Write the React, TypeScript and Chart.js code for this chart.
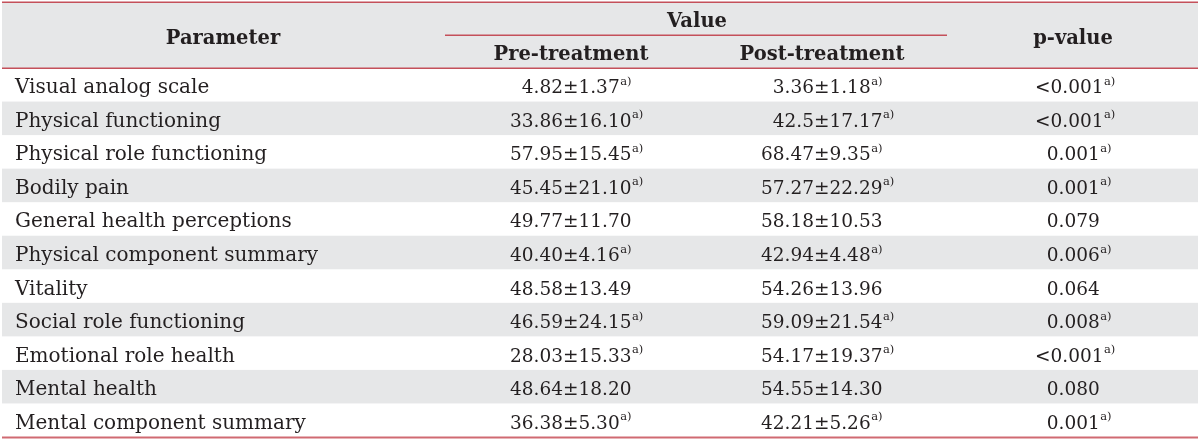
import React, { useEffect, useRef } from "react";
import { Chart, registerables } from "chart.js";

Chart.register(...registerables);

// ---- data ----
const parameters = [
  "Visual analog scale",
  "Physical functioning",
  "Physical role functioning",
  "Bodily pain",
  "General health perceptions",
  "Physical component summary",
  "Vitality",
  "Social role functioning",
  "Emotional role health",
  "Mental health",
  "Mental component summary",
];
const preMean = ["4.82", "33.86", "57.95", "45.45", "49.77", "40.40", "48.58", "46.59", "28.03", "48.64", "36.38"];
const preSD = ["1.37", "16.10", "15.45", "21.10", "11.70", "4.16", "13.49", "24.15", "15.33", "18.20", "5.30"];
const preSig = [true, true, true, true, false, true, false, true, true, false, true];
const postMean = ["3.36", "42.5", "68.47", "57.27", "58.18", "42.94", "54.26", "59.09", "54.17", "54.55", "42.21"];
const postSD = ["1.18", "17.17", "9.35", "22.29", "10.53", "4.48", "13.96", "21.54", "19.37", "14.30", "5.26"];
const postSig = [true, true, true, true, false, true, false, true, true, false, true];
const pValues = ["<0.001", "<0.001", "0.001", "0.001", "0.079", "0.006", "0.064", "0.008", "<0.001", "0.080", "0.001"];
const pSig = [true, true, true, true, false, true, false, true, true, false, true];
const headerTop = "Value";
const headers = ["Parameter", "Pre-treatment", "Post-treatment", "p-value"];
const footMark = "a)";

// ---- layout (x positions in x-scale units) ----
const TABLE_LEFT = 2;
const TABLE_RIGHT = 1198;
const PARAM_LEFT = 15;
const PRE_LEFT = 510;
const POST_LEFT = 761;
const P_LEFT = 1035;
const HEAD_CENTERS = [223, 571, 822, 1073];
const VALUE_CENTER = 697;
const VALUE_LINE = [445, 947];

const FONT_FAMILY = '"DejaVu Serif", serif';
const FS_HEAD = 19.5;
const FS_NAME = 20;
const FS_NUM = 18.5;
const FS_SUP = 11.5;
const TEXT = "#231f20";
const GRAY = "#e6e7e8";
const RED = "#c4505a";
const RED_BOTTOM = "#d06a72";

const tablePlugin = {
  id: "tableDraw",
  beforeDatasetsDraw(chart: any) {
    const ctx = chart.ctx as CanvasRenderingContext2D;
    const area = chart.chartArea;
    const xs = chart.scales.x;
    const ys = chart.scales.y;
    const n = parameters.length;
    const band = (area.bottom - area.top) / n;
    const L = xs.getPixelForValue(TABLE_LEFT);
    const R = xs.getPixelForValue(TABLE_RIGHT);

    ctx.save();
    // header background
    ctx.fillStyle = GRAY;
    ctx.fillRect(L, 2, R - L, area.top - 2);
    // stripes
    parameters.forEach((_, i) => {
      if (i % 2 === 1) {
        const c = ys.getPixelForValue(i);
        ctx.fillRect(L, c - band / 2, R - L, band);
      }
    });

    // lines
    const hline = (x1: number, x2: number, y: number, w: number, col: string) => {
      ctx.beginPath();
      ctx.strokeStyle = col;
      ctx.lineWidth = w;
      ctx.moveTo(x1, y);
      ctx.lineTo(x2, y);
      ctx.stroke();
    };
    hline(L, R, 2.25, 1.5, RED);
    hline(L, R, area.top + 0.25, 1.5, RED);
    hline(xs.getPixelForValue(VALUE_LINE[0]), xs.getPixelForValue(VALUE_LINE[1]), 35.25, 1.5, RED);
    hline(L, R, area.bottom + 0.5, 2, RED_BOTTOM);

    // header text
    ctx.fillStyle = TEXT;
    ctx.font = `bold ${FS_HEAD}px ${FONT_FAMILY}`;
    ctx.textAlign = "center";
    ctx.textBaseline = "alphabetic";
    ctx.fillText(headerTop, xs.getPixelForValue(VALUE_CENTER), 27);
    ctx.fillText(headers[0], xs.getPixelForValue(HEAD_CENTERS[0]), 44);
    ctx.fillText(headers[1], xs.getPixelForValue(HEAD_CENTERS[1]), 60);
    ctx.fillText(headers[2], xs.getPixelForValue(HEAD_CENTERS[2]), 60);
    ctx.fillText(headers[3], xs.getPixelForValue(HEAD_CENTERS[3]), 44);

    // body
    ctx.textAlign = "left";
    ctx.font = `${FS_NUM}px ${FONT_FAMILY}`;
    const digitW = ctx.measureText("0").width;

    const drawCell = (text: string, x: number, base: number, sig: boolean, size: number) => {
      ctx.font = `${size}px ${FONT_FAMILY}`;
      ctx.fillText(text, x, base);
      if (sig) {
        const w = ctx.measureText(text).width;
        ctx.font = `${FS_SUP}px ${FONT_FAMILY}`;
        ctx.fillText(footMark, x + w + 0.5, base - 8.5);
      }
    };

    const maxLen = (arr: string[]) => Math.max(...arr.map((s) => s.length));
    const preMax = maxLen(preMean);
    const postMax = maxLen(postMean);
    const pMax = maxLen(pValues);

    parameters.forEach((name, i) => {
      const base = ys.getPixelForValue(i) + 8.5;
      drawCell(name, xs.getPixelForValue(PARAM_LEFT), base, false, FS_NAME);
      drawCell(
        `${preMean[i]}±${preSD[i]}`,
        xs.getPixelForValue(PRE_LEFT) + (preMax - preMean[i].length) * digitW,
        base,
        preSig[i],
        FS_NUM
      );
      drawCell(
        `${postMean[i]}±${postSD[i]}`,
        xs.getPixelForValue(POST_LEFT) + (postMax - postMean[i].length) * digitW,
        base,
        postSig[i],
        FS_NUM
      );
      drawCell(
        pValues[i],
        xs.getPixelForValue(P_LEFT) + (pMax - pValues[i].length) * digitW,
        base,
        pSig[i],
        FS_NUM
      );
    });
    ctx.restore();
  },
};

export default function App() {
  const ref = useRef<HTMLCanvasElement | null>(null);
  useEffect(() => {
    if (!ref.current) return;
    const chart = new Chart(ref.current, {
      type: "bar",
      data: { labels: parameters, datasets: [] },
      options: {
        responsive: false,
        animation: false,
        devicePixelRatio: 1,
        indexAxis: "y",
        layout: { padding: { top: 68, bottom: 2, left: 0, right: 0 } },
        plugins: { legend: { display: false }, tooltip: { enabled: false } },
        scales: {
          x: { type: "linear", min: 0, max: 1200, display: false },
          y: { type: "category", offset: true, display: false },
        },
      },
      plugins: [tablePlugin],
    } as any);
    return () => chart.destroy();
  }, []);
  return (
    <div style={{ position: "absolute", left: 0, top: 0, width: 1200, height: 439, background: "#fff" }}>
      <canvas ref={ref} width={1200} height={439} />
    </div>
  );
}
